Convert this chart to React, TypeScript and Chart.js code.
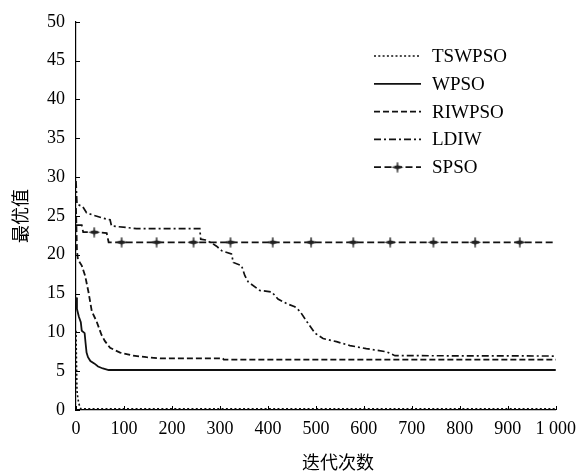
import { useEffect, useRef } from 'react';
import { Chart, registerables } from 'chart.js';

Chart.register(...registerables);

// ---- data ----
const seriesNames = ['TSWPSO', 'WPSO', 'RIWPSO', 'LDIW', 'SPSO'];

const tswIter = [0, 1, 2, 4, 6, 10, 1000];
const tswVal = [10.2, 6.0, 2.5, 1.5, 0.8, 0.15, 0.15];

const wpsoIter = [0, 2, 6, 10, 12, 18, 20, 22, 25, 30, 38, 46, 56, 68, 1000];
const wpsoVal = [14.5, 13.0, 12.0, 11.3, 10.2, 9.9, 8.6, 7.4, 6.8, 6.3, 6.0, 5.6, 5.35, 5.15, 5.15];

const riwIter = [0, 2, 4, 12, 19, 26, 33, 43, 53, 60, 71, 92, 119, 147, 175, 306, 308, 1000];
const riwVal = [26.0, 20.5, 19.4, 18.6, 17.3, 15.2, 12.7, 11.4, 9.7, 8.9, 8.0, 7.4, 7.0, 6.8, 6.65, 6.65, 6.5, 6.5];

const ldiwIter = [0, 2, 14, 22, 36, 57, 71, 74, 106, 126, 258, 260, 270, 283, 293, 304, 324, 328, 345, 352, 359, 383, 408, 421, 439, 456, 467, 481, 498, 515, 543, 571, 605, 647, 665, 1000];
const ldiwVal = [29.5, 26.5, 26.2, 25.4, 25.1, 24.7, 24.5, 23.7, 23.5, 23.35, 23.35, 22.0, 21.9, 21.5, 21.1, 20.5, 20.1, 19.0, 18.6, 17.3, 16.5, 15.4, 15.2, 14.3, 13.7, 13.3, 12.7, 11.4, 9.9, 9.2, 8.8, 8.3, 7.9, 7.5, 7.0, 6.95];

const spsoIter = [0, 12, 15, 38, 64, 68, 95, 168, 245, 322, 410, 490, 578, 655, 745, 832, 925, 1000];
const spsoVal = [23.8, 23.8, 22.9, 22.9, 22.8, 21.6, 21.6, 21.6, 21.6, 21.6, 21.6, 21.6, 21.6, 21.6, 21.6, 21.6, 21.6, 21.6];
const spsoMarkIter = [38, 95, 168, 245, 322, 410, 490, 578, 655, 745, 832, 925];

const xTickValues = [0, 100, 200, 300, 400, 500, 600, 700, 800, 900, 1000];
const xTickLabels = ['0', '100', '200', '300', '400', '500', '600', '700', '800', '900', '1 000'];
const yTickValues = [0, 5, 10, 15, 20, 25, 30, 35, 40, 45, 50];

const xTitle = '迭代次数';
const yTitle = '最优值';

// ---- styles ----
const dashes: number[][] = [[2, 2.3], [], [6, 3], [7, 3, 2, 3], [7, 3.5]];
const widths = [1.6, 1.8, 1.8, 1.7, 1.8];
const lineColor = '#111';
const serif = '"Liberation Serif", "Times New Roman", serif';
const cjk = '"Noto Sans CJK SC", sans-serif';

function makeMarker(): HTMLCanvasElement {
  const c = document.createElement('canvas');
  c.width = 14;
  c.height = 11;
  const g = c.getContext('2d')!;
  g.fillStyle = '#222';
  g.strokeStyle = '#222';
  g.beginPath();
  g.moveTo(1, 5.5);
  g.lineTo(7, 3.2);
  g.lineTo(13, 5.5);
  g.lineTo(7, 7.8);
  g.closePath();
  g.fill();
  g.lineWidth = 1.4;
  g.beginPath();
  g.moveTo(7, 0.5);
  g.lineTo(7, 10.5);
  g.stroke();
  return c;
}

const toPts = (xs: number[], ys: number[]) => xs.map((x, i) => ({ x, y: ys[i] }));

export default function App() {
  const ref = useRef<HTMLCanvasElement>(null);

  useEffect(() => {
    document.body.style.margin = '0';
    const marker = makeMarker();
    const all = [
      toPts(tswIter, tswVal),
      toPts(wpsoIter, wpsoVal),
      toPts(riwIter, riwVal),
      toPts(ldiwIter, ldiwVal),
      toPts(spsoIter, spsoVal),
    ];

    const inwardTicks = {
      id: 'inwardTicks',
      afterDraw(chart: any) {
        const { ctx, scales, chartArea } = chart;
        ctx.save();
        ctx.strokeStyle = '#000';
        ctx.lineWidth = 1;
        ctx.beginPath();
        xTickValues.forEach((v) => {
          const px = Math.round(scales.x.getPixelForValue(v)) + 0.5;
          ctx.moveTo(px, chartArea.bottom);
          ctx.lineTo(px, chartArea.bottom - 4);
        });
        yTickValues.forEach((v) => {
          const py = Math.round(scales.y.getPixelForValue(v)) + 0.5;
          ctx.moveTo(chartArea.left, py);
          ctx.lineTo(chartArea.left + 4, py);
        });
        ctx.stroke();

        // axis titles
        ctx.fillStyle = '#000';
        ctx.font = '18px ' + cjk;
        ctx.textAlign = 'center';
        ctx.textBaseline = 'middle';
        ctx.fillText(xTitle, 338, 462);
        ctx.save();
        ctx.translate(20, (chartArea.top + chartArea.bottom) / 2);
        ctx.rotate(-Math.PI / 2);
        ctx.fillText(yTitle, 0, 0);
        ctx.restore();

        // legend
        const lx0 = 374, lx1 = 421, tx = 432, y0 = 56, dy = 27.8;
        seriesNames.forEach((name, i) => {
          const yy = y0 + i * dy;
          ctx.save();
          ctx.strokeStyle = lineColor;
          ctx.lineWidth = widths[i];
          ctx.setLineDash(dashes[i]);
          ctx.beginPath();
          ctx.moveTo(lx0, yy);
          ctx.lineTo(lx1, yy);
          ctx.stroke();
          ctx.restore();
          if (i === 4) {
            ctx.drawImage(marker, (lx0 + lx1) / 2 - 7, yy - 5.5);
          }
          ctx.fillStyle = '#000';
          ctx.font = '19px ' + serif;
          ctx.textAlign = 'left';
          ctx.textBaseline = 'middle';
          ctx.fillText(name, tx, yy + 1);
        });
        ctx.restore();
      },
    };

    const chart = new Chart(ref.current!, {
      type: 'line',
      data: {
        datasets: seriesNames.map((name, i) => ({
          label: name,
          data: all[i],
          borderColor: lineColor,
          backgroundColor: lineColor,
          borderWidth: widths[i],
          borderDash: dashes[i],
          tension: 0,
          fill: false,
          clip: false as any,
          pointRadius:
            i === 4
              ? (c: any) => (c.raw && spsoMarkIter.includes(c.raw.x) ? 5 : 0)
              : 0,
          pointStyle: i === 4 ? (marker as any) : 'circle',
          pointHoverRadius: 0,
        })),
      },
      options: {
        animation: false,
        responsive: false,
        events: [],
        layout: { padding: { top: 16, right: 27, left: 0, bottom: 0 } },
        plugins: { legend: { display: false }, tooltip: { enabled: false } },
        scales: {
          x: {
            type: 'linear',
            min: 0,
            max: 1000,
            afterFit: (s: any) => {
              s.height = 62;
            },
            afterBuildTicks: (s: any) => {
              s.ticks = xTickValues.map((v) => ({ value: v }));
            },
            grid: { display: false, drawTicks: false },
            border: { display: true, color: '#000', width: 1.2 },
            ticks: {
              padding: 8,
              color: '#000',
              font: { family: serif, size: 18 },
              maxRotation: 0,
              autoSkip: false,
              callback: (_v: any, idx: number) => xTickLabels[idx],
            },
          },
          y: {
            type: 'linear',
            min: 0,
            max: 50,
            afterFit: (s: any) => {
              s.width = 76;
            },
            afterBuildTicks: (s: any) => {
              s.ticks = yTickValues.map((v) => ({ value: v }));
            },
            grid: { display: false, drawTicks: false },
            border: { display: true, color: '#000', width: 1.2 },
            ticks: {
              padding: 11,
              color: '#000',
              font: { family: serif, size: 18 },
              autoSkip: false,
              callback: (v: any) => String(v),
            },
          },
        },
      },
      plugins: [inwardTicks],
    });
    return () => chart.destroy();
  }, []);

  return <canvas ref={ref} width={584} height={472} style={{ display: 'block' }} />;
}
